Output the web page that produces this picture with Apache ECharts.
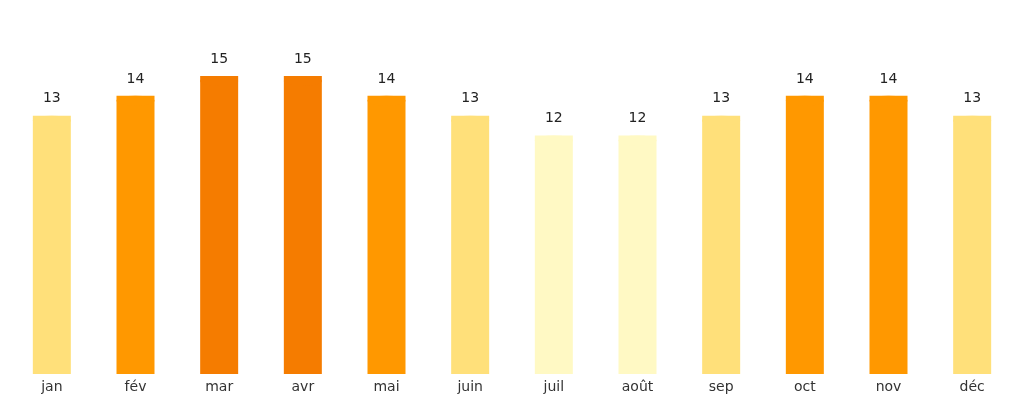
<!DOCTYPE html>
<html><head><meta charset="utf-8">
<script src="https://cdn.jsdelivr.net/npm/echarts@6/dist/echarts.min.js"></script>
<style>html,body{margin:0;background:#fff}#c{width:1024px;height:404px}</style>
</head><body><div id="c"></div>
<script>
var months = ['jan', 'fév', 'mar', 'avr', 'mai', 'juin', 'juil', 'août', 'sep', 'oct', 'nov', 'déc'];
var values = [13, 14, 15, 15, 14, 13, 12, 12, 13, 14, 14, 13];
var shades = { 12: '#fff9c4', 13: '#ffe07a', 14: '#ff9800', 15: '#f57c00' };

var chart = echarts.init(document.getElementById('c'));
var colored = values.map(function (v) {
  return { value: v, itemStyle: { color: shades[v] } };
});
chart.setOption({
  animation: false,
  grid: { left: 10, right: 10, top: 76, bottom: 30 },
  xAxis: {
    type: 'category', data: months,
    axisLine: { show: false }, axisTick: { show: false },
    axisLabel: { color: '#333', fontSize: 14, fontFamily: 'DejaVu Sans', margin: 6 }
  },
  yAxis: { type: 'value', min: 0, max: 15, show: false, splitLine: { show: false } },
  series: [
    {
      type: 'bar', data: colored, barWidth: 38,
      label: { show: true, position: 'top', distance: 10, color: '#222', fontSize: 14, fontFamily: 'DejaVu Sans' }
    },
    {
      type: 'pictorialBar', data: colored, symbol: 'circle', symbolSize: [38, 10],
      symbolPosition: 'end', symbolOffset: [0, 0], barGap: '-100%', z: 3
    }
  ]
});
</script></body></html>
